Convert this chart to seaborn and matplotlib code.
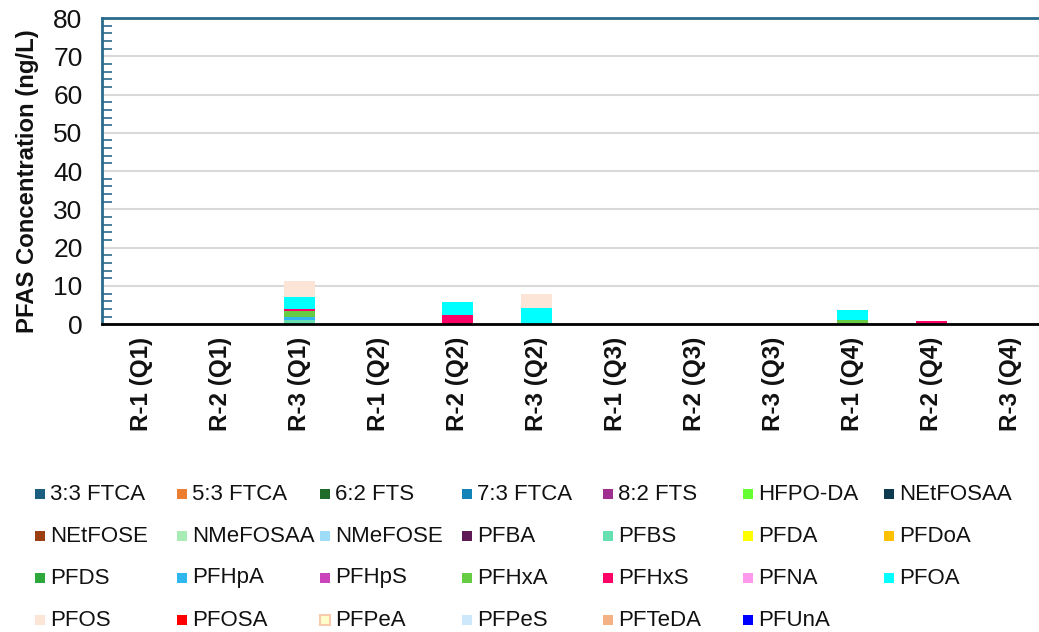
import numpy as np
import pandas as pd
import matplotlib
matplotlib.use("Agg")
import matplotlib.pyplot as plt
from matplotlib.patches import Rectangle
import seaborn as sns

sns.set_theme(style="white")
plt.rcParams["font.family"] = ["Liberation Sans", "DejaVu Sans"]

samples = ["R-1 (Q1)", "R-2 (Q1)", "R-3 (Q1)", "R-1 (Q2)", "R-2 (Q2)", "R-3 (Q2)",
           "R-1 (Q3)", "R-2 (Q3)", "R-3 (Q3)", "R-1 (Q4)", "R-2 (Q4)", "R-3 (Q4)"]

compounds = ["3:3 FTCA", "5:3 FTCA", "6:2 FTS", "7:3 FTCA", "8:2 FTS", "HFPO-DA", "NEtFOSAA",
             "NEtFOSE", "NMeFOSAA", "NMeFOSE", "PFBA", "PFBS", "PFDA", "PFDoA",
             "PFDS", "PFHpA", "PFHpS", "PFHxA", "PFHxS", "PFNA", "PFOA",
             "PFOS", "PFOSA", "PFPeA", "PFPeS", "PFTeDA", "PFUnA"]

colors = ["#1B5E80", "#ED7D31", "#1E6B2A", "#1384B8", "#A0308F", "#66FF33", "#0E3A4F",
          "#9B3F12", "#A9EBB5", "#9DDDF7", "#5F1A55", "#66E0B0", "#FFFF00", "#FFC000",
          "#2CA83C", "#30B8EE", "#CC44BB", "#66CC44", "#FF0066", "#FF99EE", "#00FFFF",
          "#FCE4D6", "#FF0000", "#FFFFCC", "#CCE8FA", "#F4B183", "#0000FF"]

# Detected concentrations (ng/L); compounds not listed are non-detect
pfbs  = [0, 0, 1.1, 0, 0, 0, 0, 0, 0, 0, 0, 0]
pfhpa = [0, 0, 0.9, 0, 0, 0, 0, 0, 0, 0, 0, 0]
pfhxa = [0, 0, 1.5, 0, 0, 0, 0, 0, 0, 1.15, 0, 0]
pfhxs = [0, 0, 0.6, 0, 2.4, 0, 0, 0, 0, 0, 0.9, 0]
pfoa  = [0, 0, 3.0, 0, 3.35, 4.2, 0, 0, 0, 2.65, 0, 0]
pfos  = [0, 0, 4.2, 0, 0, 3.6, 0, 0, 0, 0, 0, 0]

detected = {"PFBS": pfbs, "PFHpA": pfhpa, "PFHxA": pfhxa,
            "PFHxS": pfhxs, "PFOA": pfoa, "PFOS": pfos}

rows = []
for comp in compounds:
    vals = detected.get(comp, [0] * len(samples))
    for s, v in zip(samples, vals):
        rows.append({"Sample": s, "Compound": comp, "Conc": v})
df = pd.DataFrame(rows)

fig = plt.figure(figsize=(10.39, 6.32), dpi=100)
# plot area runs slightly past the right edge of the canvas
ax = fig.add_axes([0.0982, 0.487, 0.9124, 0.4845])

axis_blue = "#2A6B8C"
bottom = np.zeros(len(samples))
for comp, col in zip(compounds, colors):
    sub = df[df["Compound"] == comp].set_index("Sample").loc[samples].reset_index()
    heights = sub["Conc"].to_numpy()
    if heights.sum() > 0:
        sns.barplot(data=sub, x="Sample", y="Conc", order=samples, color=col,
                    width=0.40, bottom=bottom, ax=ax, errorbar=None,
                    saturation=1, linewidth=0)
    bottom += heights

ax.set_ylim(0, 80)
ax.set_xlim(-0.5, len(samples) - 0.5)
ax.set_yticks(np.arange(0, 81, 10))
ax.set_yticks(np.arange(0, 81, 2), minor=True)
ax.yaxis.grid(True, which="major", color="#D9D9D9", linewidth=1.5)
ax.set_axisbelow(True)

ax.tick_params(axis="y", which="major", direction="inout", length=12, width=1.5,
               color=axis_blue, labelsize=19, pad=8, labelcolor="#111111")
ax.tick_params(axis="y", which="minor", direction="in", length=7, width=1.2,
               color=axis_blue, left=True)
ax.tick_params(axis="x", length=0, pad=9)
for lab in ax.get_xticklabels():
    lab.set_rotation(90)
    lab.set_fontweight("bold")
    lab.set_fontsize(17.5)
    lab.set_va("top")
    lab.set_ha("center")
    lab.set_color("#111111")

ax.spines["left"].set_color(axis_blue)
ax.spines["left"].set_linewidth(2)
ax.spines["top"].set_color(axis_blue)
ax.spines["top"].set_linewidth(2)
ax.spines["right"].set_visible(False)
ax.spines["bottom"].set_color("black")
ax.spines["bottom"].set_linewidth(2)

ax.set_xlabel("")
ax.set_ylabel("PFAS Concentration (ng/L)", fontsize=17.2, fontweight="bold",
              color="#111111")
ax.yaxis.set_label_coords(-0.066, 0.466)

# Legend laid out on an even grid, filled row by row
W, H = 1039, 632
col_x = [35, 177, 320, 462, 603, 743, 884]
row_y = [494, 536, 578, 620]
sq = 9.5
for i, (comp, col) in enumerate(zip(compounds, colors)):
    r, c = divmod(i, 7)
    x0, yc = col_x[c], row_y[r]
    edge = "#F8CBAD" if comp == "PFPeA" else col
    lw = 1.5 if comp == "PFPeA" else 0
    fig.add_artist(Rectangle((x0 / W, 1 - (yc + sq / 2) / H), sq / W, sq / H,
                             facecolor=col, edgecolor=edge, linewidth=lw,
                             transform=fig.transFigure))
    fig.text((x0 + 15) / W, 1 - yc / H, comp, fontsize=16, va="center", ha="left",
             color="#111111")

fig.savefig("out.png", dpi=100)
